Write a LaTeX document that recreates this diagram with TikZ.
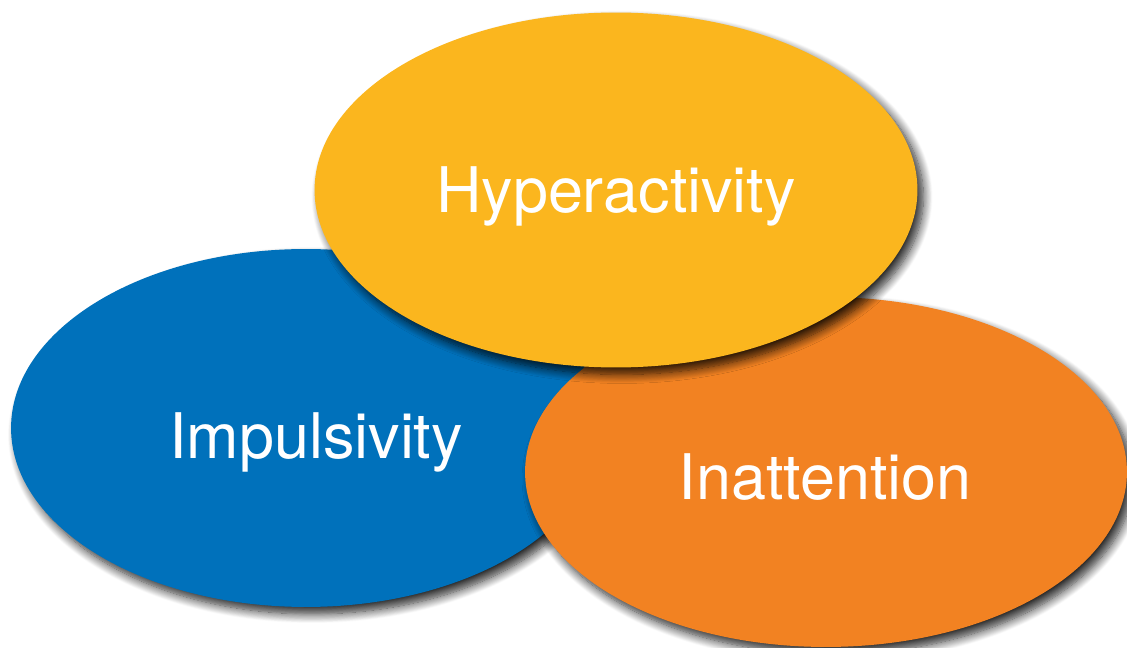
\documentclass[tikz,border=0pt]{standalone}
\usepackage{fontspec}
\setmainfont{TeX Gyre Heros}
\usetikzlibrary{shapes.geometric,shadows.blur}
\definecolor{impblue}{HTML}{0071BB}
\definecolor{hypyellow}{HTML}{FBB61E}
\definecolor{inaorange}{HTML}{F28222}

\begin{document}
\begin{tikzpicture}[x=0.02cm, y=-0.02cm,
        blob/.style={ellipse, inner sep=0pt, blur shadow={shadow xshift=0.12cm, shadow yshift=-0.14cm, shadow blur radius=0.18cm, shadow blur steps=12, shadow opacity=85}},
        word/.style={text=white, anchor=base, inner sep=0pt, font=\fontsize{35.8}{40}\selectfont}]
        \useasboundingbox (0,0) rectangle (1127,648);
        \node (e1) [blob, fill=impblue, minimum width=11.8cm, minimum height=7.16cm] at (306, 428) {};
        \node (e3) [blob, fill=inaorange, minimum width=12.04cm, minimum height=7.0cm] at (826, 472) {};
        \node (e2) [blob, fill=hypyellow, minimum width=12.06cm, minimum height=7.1cm] at (616, 190) {};
        \node (t1) [word] at (316, 459) {Impulsivity};
        \node (t2) [word] at (616, 213) {Hyperactivity};
        \node (t3) [word] at (825, 500) {Inattention};
\end{tikzpicture}
\end{document}
